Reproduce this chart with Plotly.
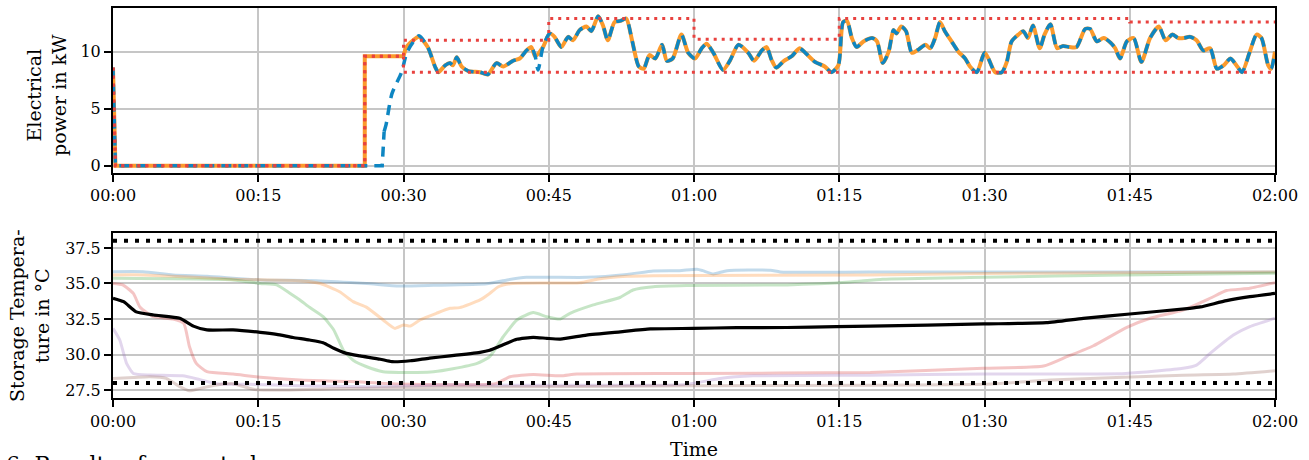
import plotly.graph_objects as go

# ---------------- data (minutes since 00:00) ----------------
tick_minutes = [0, 15, 30, 45, 60, 75, 90, 105, 120]
tick_labels = ["00:00", "00:15", "00:30", "00:45", "01:00", "01:15", "01:30", "01:45", "02:00"]

# electrical power setpoint (orange, solid)
orange_t = [0, 0.25, 26.0, 26.0, 30.0, 30.3, 31.0, 31.6, 32.5, 33.3, 33.6, 34.3, 34.8, 35.1, 35.5, 36.0,
            36.7, 37.9, 38.7, 39.6, 40.3, 41.3, 42.0, 42.7, 43.2, 43.6, 44.4, 45.1, 45.6, 46.3, 47.0, 47.5,
            48.2, 48.9, 49.4, 50.1, 50.6, 51.1, 51.8, 52.4, 53.0, 53.6, 54.3, 54.8, 55.4, 56.0, 56.7, 57.2,
            57.8, 58.7, 59.4, 60.1, 60.8, 61.3, 62.0, 63.0, 63.7, 64.6, 65.6, 66.2, 67.0, 67.5, 68.0, 68.5,
            69.3, 70.1, 70.9, 71.5, 72.5, 73.5, 74.2, 74.9, 75.4, 75.8, 76.3, 76.8, 77.5, 78.4, 78.9, 79.5,
            80.1, 80.6, 80.9, 81.4, 81.9, 82.5, 83.2, 83.9, 84.4, 84.9, 85.4, 85.9, 86.6, 87.3, 88.0, 88.5,
            89.2, 90.0, 90.4, 91.1, 91.8, 92.3, 92.8, 93.5, 94.0, 94.5, 95.0, 95.7, 96.2, 96.8, 97.5, 98.1,
            98.8, 99.5, 100.4, 100.9, 101.6, 102.3, 103.0, 103.5, 104.0, 104.7, 105.4, 106.2, 107.1, 108.0,
            108.7, 109.4, 110.0, 110.6, 111.2, 111.9, 112.6, 113.3, 114.0, 114.7, 115.4, 116.1, 116.6, 117.4,
            118.1, 118.6, 119.3, 119.6, 120.0]
orange_kw = [8.6, 0, 0, 9.6, 9.6, 10.4, 11.0, 11.3, 10.4, 8.6, 8.2, 8.8, 9.0, 8.8, 9.5, 8.7,
             8.3, 8.2, 8.0, 9.0, 8.7, 9.2, 9.4, 10.1, 10.4, 9.6, 10.4, 11.6, 11.3, 10.4, 11.3, 11.0,
             11.9, 12.2, 11.8, 13.1, 12.3, 11.0, 12.6, 12.7, 12.9, 11.0, 8.7, 8.5, 9.7, 9.4, 10.6, 9.2,
             9.4, 11.5, 9.9, 9.4, 10.3, 10.7, 9.9, 8.4, 9.2, 10.6, 9.9, 9.2, 10.1, 10.4, 9.3, 8.6,
             9.2, 9.6, 10.3, 9.9, 9.1, 8.7, 8.2, 8.8, 12.6, 12.7, 11.2, 10.4, 10.9, 11.2, 10.9, 9.0,
             10.0, 11.9, 11.6, 12.2, 11.8, 9.9, 10.2, 10.6, 10.3, 11.2, 12.6, 11.8, 10.9, 10.0, 9.4, 8.7,
             8.2, 9.9, 9.4, 8.2, 8.2, 9.1, 10.9, 11.5, 11.8, 11.2, 12.3, 10.3, 11.5, 12.4, 10.3, 10.5,
             10.4, 10.4, 12.0, 12.0, 10.9, 11.2, 10.8, 10.3, 9.4, 10.9, 11.2, 9.1, 11.2, 12.2,
             11.0, 11.5, 11.2, 11.2, 11.3, 11.0, 10.1, 10.3, 8.5, 8.8, 9.4, 8.7, 8.2, 10.0,
             11.5, 11.2, 8.8, 8.5, 10.0]

# measured electrical power (blue, dashed)
blue_t = [0, 0.25, 27.8, 28.0, 28.2, 28.8, 29.8, 30.3, 30.8, 31.6, 32.5, 33.3, 33.6, 34.3, 34.8, 35.1, 35.5, 36.0,
          36.7, 37.9, 38.7, 39.6, 40.3, 41.3, 42.0, 42.7, 43.2, 43.6, 43.9, 44.4, 45.1, 45.6, 46.3, 47.0, 47.5,
          48.2, 48.9, 49.4, 50.1, 50.6, 51.1, 51.8, 52.4, 53.0, 53.6, 54.3, 54.8, 55.4, 56.0, 56.7, 57.2,
          57.8, 58.7, 59.4, 60.1, 60.8, 61.3, 62.0, 63.0, 63.7, 64.6, 65.6, 66.2, 67.0, 67.5, 68.0, 68.5,
          69.3, 70.1, 70.9, 71.5, 72.5, 73.5, 74.2, 74.9, 75.4, 75.8, 76.3, 76.8, 77.5, 78.4, 78.9, 79.5,
          80.1, 80.6, 80.9, 81.4, 81.9, 82.5, 83.2, 83.9, 84.4, 84.9, 85.4, 85.9, 86.6, 87.3, 88.0, 88.5,
          89.2, 90.0, 90.4, 91.1, 91.8, 92.3, 92.8, 93.5, 94.0, 94.5, 95.0, 95.7, 96.2, 96.8, 97.5, 98.1,
          98.8, 99.5, 100.4, 100.9, 101.6, 102.3, 103.0, 103.5, 104.0, 104.7, 105.4, 106.2, 107.1, 108.0,
          108.7, 109.4, 110.0, 110.6, 111.2, 111.9, 112.6, 113.3, 114.0, 114.7, 115.4, 116.1, 116.6, 117.4,
          118.1, 118.6, 119.3, 119.6, 120.0]
blue_kw = [8.6, 0, 0, 3.0, 3.6, 6.3, 8.2, 9.8, 10.6, 11.4, 10.4, 8.6, 8.2, 8.8, 9.0, 8.8, 9.5, 8.7,
           8.3, 8.2, 8.0, 9.0, 8.7, 9.2, 9.4, 10.1, 10.4, 9.6, 8.4, 10.4, 11.6, 11.3, 10.4, 11.3, 11.0,
           11.9, 12.2, 11.8, 13.1, 12.3, 11.0, 12.6, 12.7, 12.9, 11.0, 8.7, 8.5, 9.7, 9.4, 10.6, 9.2,
           9.4, 11.5, 9.9, 9.4, 10.3, 10.7, 9.9, 8.4, 9.2, 10.6, 9.9, 9.2, 10.1, 10.4, 9.3, 8.6,
           9.2, 9.6, 10.3, 9.9, 9.1, 8.7, 8.2, 8.8, 12.6, 12.7, 11.2, 10.4, 10.9, 11.2, 10.9, 9.0,
           10.0, 11.9, 11.6, 12.2, 11.8, 9.9, 10.2, 10.6, 10.3, 11.2, 12.6, 11.8, 10.9, 10.0, 9.4, 8.7,
           8.2, 9.9, 9.4, 8.2, 8.2, 9.1, 10.9, 11.5, 11.8, 11.2, 12.3, 10.3, 11.5, 12.4, 10.3, 10.5,
           10.4, 10.4, 12.0, 12.0, 10.9, 11.2, 10.8, 10.3, 9.4, 10.9, 11.2, 9.1, 11.2, 12.2,
           11.0, 11.5, 11.2, 11.2, 11.3, 11.0, 10.1, 10.3, 8.5, 8.8, 9.4, 8.7, 8.2, 10.0,
           11.5, 11.2, 8.8, 8.5, 10.0]

# flexibility bounds (red, dotted)
upper_t = [0, 0.25, 26, 26, 30, 30, 45, 45, 60, 60, 75, 75, 105, 105, 120]
upper_kw = [8.6, 0, 0, 9.6, 9.6, 11.0, 11.0, 12.9, 12.9, 11.1, 11.1, 12.9, 12.9, 12.6, 12.6]
lower_t = [0, 0.25, 26, 26, 30, 30, 120]
lower_kw = [8.6, 0, 0, 9.6, 9.6, 8.2, 8.2]

# storage temperatures (°C)
mean_t = [0, 1.1, 2.4, 4.2, 6.9, 8.3, 9.7, 12.4, 15.2, 16.9, 18.6, 20.3, 21.7, 22.8, 24.1, 25.5, 27.6, 28.8,
          30.7, 32.7, 34.8, 37.9, 38.9, 40.0, 41.7, 43.4, 44.8, 46.2, 48.9, 52.4, 55.5, 59.9, 64.4, 69.6,
          74.7, 78.2, 89.9, 96.4, 100.2, 105.0, 111.2, 112.3, 115.0, 117.4, 120]
mean_temp = [33.96, 33.72, 33.0, 32.78, 32.55, 32.0, 31.73, 31.73, 31.56, 31.42, 31.2, 31.02, 30.83, 30.44,
             30.08, 29.9, 29.67, 29.5, 29.56, 29.75, 29.9, 30.15, 30.3, 30.6, 31.07, 31.21, 31.14, 31.09,
             31.37, 31.6, 31.8, 31.84, 31.89, 31.9, 31.96, 32.0, 32.15, 32.24, 32.55, 32.85, 33.25, 33.35,
             33.79, 34.07, 34.3]

s1_t = [0, 3.1, 6.2, 9.7, 15.2, 21.0, 26.2, 29.6, 33.1, 38.6, 40.7, 42.7, 48.9, 53.1, 55.8, 58.5, 60.3, 60.9,
        62.0, 63.4, 67.9, 68.9, 78.2, 120]
s1_temp = [35.83, 35.83, 35.6, 35.5, 35.25, 35.2, 35.0, 34.82, 34.87, 34.98, 35.25, 35.43, 35.43, 35.64,
           35.88, 35.9, 36.0, 35.9, 35.67, 35.9, 35.93, 35.81, 35.8, 35.8]

s2_t = [0, 3.1, 12.4, 19.3, 21.4, 23.4, 24.8, 26.2, 27.9, 29.1, 30.0, 30.7, 31.7, 33.4, 34.8, 35.8, 37.9, 38.9,
        39.8, 41.3, 48.2, 50.0, 53.1, 55.8, 78.2, 90.0, 120]
s2_temp = [35.6, 35.6, 35.3, 35.2, 35.0, 34.42, 33.72, 33.32, 32.43, 31.84, 32.08, 32.0, 32.43, 32.9, 33.25,
           33.3, 33.84, 34.3, 34.77, 35.0, 35.05, 35.3, 35.5, 35.55, 35.6, 35.7, 35.8]

s3_t = [0, 12.4, 15.2, 16.9, 18.3, 19.3, 20.3, 21.7, 22.8, 23.8, 24.8, 26.2, 27.9, 29.6, 31.4, 33.1, 35.1, 37.6,
        38.9, 40.3, 41.7, 43.4, 44.8, 46.2, 47.2, 49.6, 52.4, 53.7, 55.8, 59.2, 69.6, 76.1, 79.5, 89.9, 104.6, 120]
s3_temp = [35.36, 35.25, 35.0, 34.9, 34.3, 33.84, 33.32, 32.66, 31.73, 30.3, 29.6, 29.14, 28.79, 28.74, 28.74,
           28.79, 29.0, 29.38, 29.85, 31.25, 32.43, 32.95, 32.66, 32.5, 32.9, 33.49, 34.03, 34.54, 34.77,
           34.85, 34.9, 35.1, 35.3, 35.43, 35.6, 35.72]

s4_t = [0, 1.0, 2.1, 2.8, 4.2, 6.2, 7.3, 7.9, 8.6, 9.7, 12.4, 15.2, 19.3, 24.5, 29.6, 39.5, 41.0, 43.4, 46.2,
        47.9, 59.2, 78.2, 89.9, 96.1, 98.5, 101.2, 104.7, 107.1, 110.5, 113.3, 115.0, 117.4, 120]
s4_temp = [35.0, 34.9, 34.3, 33.32, 32.66, 32.5, 32.2, 30.55, 29.38, 28.79, 28.63, 28.4, 28.2, 28.1, 27.92,
           27.95, 28.44, 28.6, 28.5, 28.63, 28.67, 28.74, 29.03, 29.19, 29.85, 30.6, 31.91, 32.55, 33.13,
           33.96, 34.5, 34.66, 35.06]

s5_t = [0, 0.7, 1.4, 2.1, 3.8, 7.2, 8.9, 10.7, 14.1, 19.3, 26.2, 34.8, 59.2, 62.7, 66.1, 78.2, 89.9, 104.6,
        110.5, 111.9, 113.3, 115.7, 117.4, 120]
s5_temp = [31.84, 31.02, 29.38, 28.67, 28.56, 28.5, 28.25, 27.95, 27.9, 27.8, 27.74, 27.85, 27.9, 28.32, 28.5,
           28.55, 28.63, 28.67, 29.03, 29.26, 30.08, 31.37, 31.96, 32.55]

s6_t = [0, 2.1, 3.8, 5.5, 6.9, 7.9, 8.9, 10.7, 12.4, 14.5, 17.6, 22.8, 34.8, 60, 89.9, 96.8, 110.5, 115.7, 120]
s6_temp = [28.32, 28.38, 28.44, 28.32, 27.74, 27.45, 27.6, 27.85, 27.95, 27.55, 27.5, 27.6, 27.7, 27.8, 27.9,
           28.2, 28.55, 28.63, 28.86]

temp_max = 38.0
temp_min = 28.0

# ---------------- styling ----------------
W, H = 1309, 460
L, R = 113, 1275
TOP1, BOT1 = 8, 173
TOP2, BOT2 = 233.3, 398.3
SERIF = "DejaVu Serif"

C_ORANGE = "#fb9a2c"
C_BLUE = "#0e86c2"
C_RED = "#e8423f"
storage_colors = ["rgba(31,119,180,0.27)", "rgba(255,127,14,0.27)", "rgba(44,160,44,0.27)",
                  "rgba(214,39,40,0.27)", "rgba(148,103,189,0.27)", "rgba(140,86,75,0.27)"]

fig = go.Figure()


def split_at(ts, vs, t0):
    i = next(k for k, t in enumerate(ts) if t >= t0)
    return (ts[:i + 1], vs[:i + 1]), (ts[i:], vs[i:])


# top panel
(a, b), (c, d) = split_at(orange_t, orange_kw, 30.0)
fig.add_trace(go.Scatter(x=a, y=b, mode="lines", line=dict(color=C_ORANGE, width=4), xaxis="x", yaxis="y"))
fig.add_trace(go.Scatter(x=c, y=d, mode="lines", line=dict(color=C_ORANGE, width=4, shape="spline", smoothing=0.7),
                         xaxis="x", yaxis="y"))
(a, b), (c, d) = split_at(blue_t, blue_kw, 28.0)
fig.add_trace(go.Scatter(x=a, y=b, mode="lines", line=dict(color=C_BLUE, width=3.5, dash="10px,7px"),
                         xaxis="x", yaxis="y"))
fig.add_trace(go.Scatter(x=c, y=d, mode="lines",
                         line=dict(color=C_BLUE, width=3.5, dash="10px,7px", shape="spline", smoothing=0.7),
                         xaxis="x", yaxis="y"))
for bt, bv in [(upper_t, upper_kw), (lower_t, lower_kw)]:
    fig.add_trace(go.Scatter(x=bt, y=bv, mode="lines", line=dict(color=C_RED, width=3, dash="3px,5px"),
                             xaxis="x", yaxis="y"))

# bottom panel
for (st, sv), col in zip([(s1_t, s1_temp), (s2_t, s2_temp), (s3_t, s3_temp), (s4_t, s4_temp),
                          (s5_t, s5_temp), (s6_t, s6_temp)], storage_colors):
    fig.add_trace(go.Scatter(x=st, y=sv, mode="lines", line=dict(color=col, width=3, shape="spline", smoothing=0.5),
                             xaxis="x2", yaxis="y2"))
fig.add_trace(go.Scatter(x=mean_t, y=mean_temp, mode="lines",
                         line=dict(color="black", width=3.2, shape="spline", smoothing=0.5),
                         xaxis="x2", yaxis="y2"))
for lvl in (temp_max, temp_min):
    fig.add_trace(go.Scatter(x=[tick_minutes[0], tick_minutes[-1]], y=[lvl, lvl], mode="lines",
                             line=dict(color="black", width=4, dash="4px,7px"), xaxis="x2", yaxis="y2"))

tickfont = dict(family=SERIF, size=16, color="black")
axis_common = dict(showline=True, linecolor="black", linewidth=2, mirror=True, ticks="outside", ticklen=7,
                   tickwidth=1.6, tickcolor="black", showgrid=True, gridcolor="#c6c6c6", gridwidth=1.6,
                   zeroline=False, tickfont=tickfont, automargin=False)
xdom = [L / W, R / W]
fig.update_layout(
    width=W, height=H, margin=dict(l=0, r=0, t=0, b=0, autoexpand=False), showlegend=False,
    paper_bgcolor="white", plot_bgcolor="white",
    xaxis=dict(domain=xdom, anchor="y", range=[0, 120], tickvals=tick_minutes, ticktext=tick_labels, **axis_common),
    yaxis=dict(domain=[1 - BOT1 / H, 1 - TOP1 / H], anchor="x", range=[-0.64, 13.83], tickvals=[0, 5, 10],
               **axis_common),
    xaxis2=dict(domain=xdom, anchor="y2", range=[0, 120], tickvals=tick_minutes, ticktext=tick_labels,
                **axis_common),
    yaxis2=dict(domain=[1 - BOT2 / H, 1 - TOP2 / H], anchor="x2", range=[26.92, 38.53],
                tickvals=[27.5, 30, 32.5, 35, 37.5], tickformat=".1f", **axis_common),
)

labfont = dict(family=SERIF, size=19, color="black")
fig.add_annotation(text="Electrical<br>power in kW", xref="paper", yref="paper", x=46 / W, y=1 - 95 / H,
                   textangle=-90, showarrow=False, font=labfont, xanchor="center", yanchor="middle")
fig.add_annotation(text="Storage Tempera-<br>ture in °C", xref="paper", yref="paper", x=29 / W, y=1 - 316 / H,
                   textangle=-90, showarrow=False, font=labfont, xanchor="center", yanchor="middle")
fig.add_annotation(text="Time", xref="paper", yref="paper", x=694 / W, y=1 - 449 / H, showarrow=False,
                   font=labfont, xanchor="center", yanchor="middle")
fig.add_annotation(text="6: Results of case study", xref="paper", yref="paper", x=4 / W, y=1 - 450 / H,
                   showarrow=False, font=dict(family=SERIF, size=22, color="black"), xanchor="left",
                   yanchor="top")

fig.write_html("out.html")
